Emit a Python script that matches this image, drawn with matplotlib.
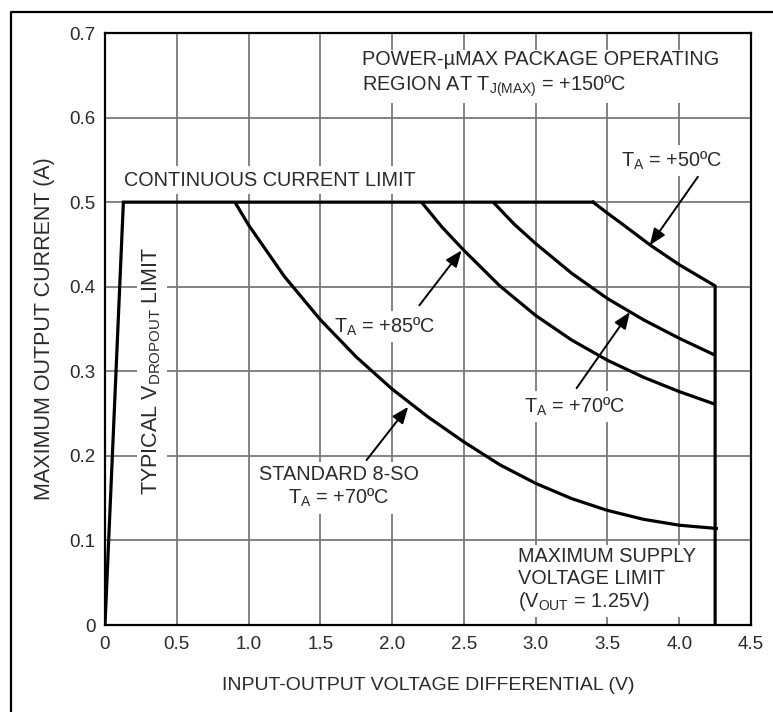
import matplotlib
matplotlib.use("Agg")
import matplotlib.pyplot as plt
from matplotlib.lines import Line2D

plt.rcParams['font.family'] = ['Liberation Sans', 'DejaVu Sans']
plt.rcParams['mathtext.fontset'] = 'custom'
plt.rcParams['mathtext.rm'] = 'Liberation Sans'
plt.rcParams['mathtext.it'] = 'Liberation Sans'
plt.rcParams['mathtext.bf'] = 'Liberation Sans'

TXT = '#2a2a2a'

# limit lines
dropout_v = [0.0, 0.128]
dropout_i = [0.0, 0.5]
cont_v = [0.128, 3.40]
cont_i = [0.5, 0.5]
vmax_v = [4.25, 4.25]
vmax_i = [0.401, 0.0]

# power-limit curves
so8_70_v = [0.905, 1.0, 1.25, 1.5, 1.75, 2.0, 2.25, 2.5, 2.75, 3.0, 3.25, 3.5, 3.75,
            4.0, 4.27]
so8_70_i = [0.500, 0.473, 0.412, 0.361, 0.317, 0.279, 0.246, 0.2165, 0.1895, 0.1675,
            0.1495, 0.1355, 0.125, 0.118, 0.114]

umax_85_v = [2.205, 2.35, 2.5, 2.75, 3.0, 3.25, 3.5, 3.75, 4.0, 4.25]
umax_85_i = [0.500, 0.470, 0.443, 0.401, 0.366, 0.337, 0.313, 0.293, 0.276, 0.261]

umax_70_v = [2.704, 2.85, 3.0, 3.25, 3.5, 3.75, 4.0, 4.25]
umax_70_i = [0.500, 0.474, 0.451, 0.416, 0.386, 0.361, 0.339, 0.319]

umax_50_v = [3.40, 3.5, 3.6, 3.8, 4.0, 4.25]
umax_50_i = [0.500, 0.487, 0.4745, 0.449, 0.426, 0.401]

x_ticks = [0, 0.5, 1.0, 1.5, 2.0, 2.5, 3.0, 3.5, 4.0, 4.5]
x_labels = ['0', '0.5', '1.0', '1.5', '2.0', '2.5', '3.0', '3.5', '4.0', '4.5']
y_ticks = [0, 0.1, 0.2, 0.3, 0.4, 0.5, 0.6, 0.7]
y_labels = ['0', '0.1', '0.2', '0.3', '0.4', '0.5', '0.6', '0.7']

fig = plt.figure(figsize=(7.73, 7.12), dpi=100)
ax = fig.add_axes([105 / 773, 87 / 712, 646 / 773, 592 / 712])

# outer frame (top and left edges)
fig.add_artist(Line2D([11 / 773, 11 / 773, 1.0], [0.0, 1 - 12 / 712, 1 - 12 / 712],
                      transform=fig.transFigure, color='black', lw=1.6))

ax.set_xlim(0, 4.5)
ax.set_ylim(0, 0.7)
ax.set_xticks(x_ticks, x_labels)
ax.set_yticks(y_ticks, y_labels)
ax.tick_params(length=0, labelsize=13.5, colors=TXT)
ax.tick_params(axis='x', pad=8)
ax.tick_params(axis='y', pad=7)
ax.grid(True, color='#7a7a7a', lw=1.3, zorder=0)
ax.set_axisbelow(True)
for s in ax.spines.values():
    s.set_linewidth(1.6)

xl = ax.set_xlabel('INPUT-OUTPUT VOLTAGE DIFFERENTIAL (V)', fontsize=14, color=TXT)
yl = ax.set_ylabel('MAXIMUM OUTPUT CURRENT (A)', fontsize=15.5, color=TXT)
xl.set_va('center')
yl.set_va('center')
ax.xaxis.set_label_coords(0.5, -0.103)
ax.yaxis.set_label_coords(-0.093, 0.5)

lkw = dict(color='black', lw=2.3, zorder=4, solid_joinstyle='miter')
ax.plot(dropout_v + cont_v, dropout_i + cont_i, **lkw)
ax.plot(umax_50_v + vmax_v, umax_50_i + vmax_i, **lkw)
for v, i in [(so8_70_v, so8_70_i), (umax_85_v, umax_85_i), (umax_70_v, umax_70_i)]:
    ax.plot(v, i, solid_capstyle='butt', **lkw)

box = dict(facecolor='white', edgecolor='none', pad=3)
tkw = dict(fontsize=14.3, color=TXT, bbox=box, zorder=2)

ax.text(1.79, 0.651, 'POWER-µMAX PACKAGE OPERATING\nREGION AT T$_{J(MAX)}$ = +150ºC',
        ha='left', va='center', linespacing=1.3, **tkw)
ax.text(0.135, 0.526, 'CONTINUOUS CURRENT LIMIT', ha='left', va='center', **tkw)
ax.text(0.327, 0.30, 'TYPICAL V$_{DROPOUT}$ LIMIT', rotation=90, ha='center', va='center',
        fontsize=15.5, color=TXT, bbox=box, zorder=2)
ax.text(3.95, 0.549, 'T$_{A}$ = +50ºC', ha='center', va='center', **tkw)
ax.text(1.95, 0.353, 'T$_{A}$ = +85ºC', ha='center', va='center', **tkw)
ax.text(3.27, 0.258, 'T$_{A}$ = +70ºC', ha='center', va='center', **tkw)
ax.text(1.63, 0.163, 'STANDARD 8-SO\nT$_{A}$ = +70ºC', ha='center', va='center',
        multialignment='center', linespacing=1.2, **tkw)
ax.text(2.875, 0.053, 'MAXIMUM SUPPLY\nVOLTAGE LIMIT\n(V$_{OUT}$ = 1.25V)', ha='left',
        va='center', linespacing=1.15, **tkw)

akw = dict(arrowstyle='-|>,head_length=1.0,head_width=0.4', color='black', lw=1.4,
           shrinkA=0, shrinkB=0)
for tip, tail in [((3.795, 0.449), (4.13, 0.530)),
                  ((2.484, 0.443), (2.19, 0.378)),
                  ((3.656, 0.370), (3.285, 0.280)),
                  ((2.112, 0.258), (1.822, 0.195))]:
    ax.annotate('', xy=tip, xytext=tail, arrowprops=akw, zorder=5)

fig.savefig('out.png', dpi=100)
